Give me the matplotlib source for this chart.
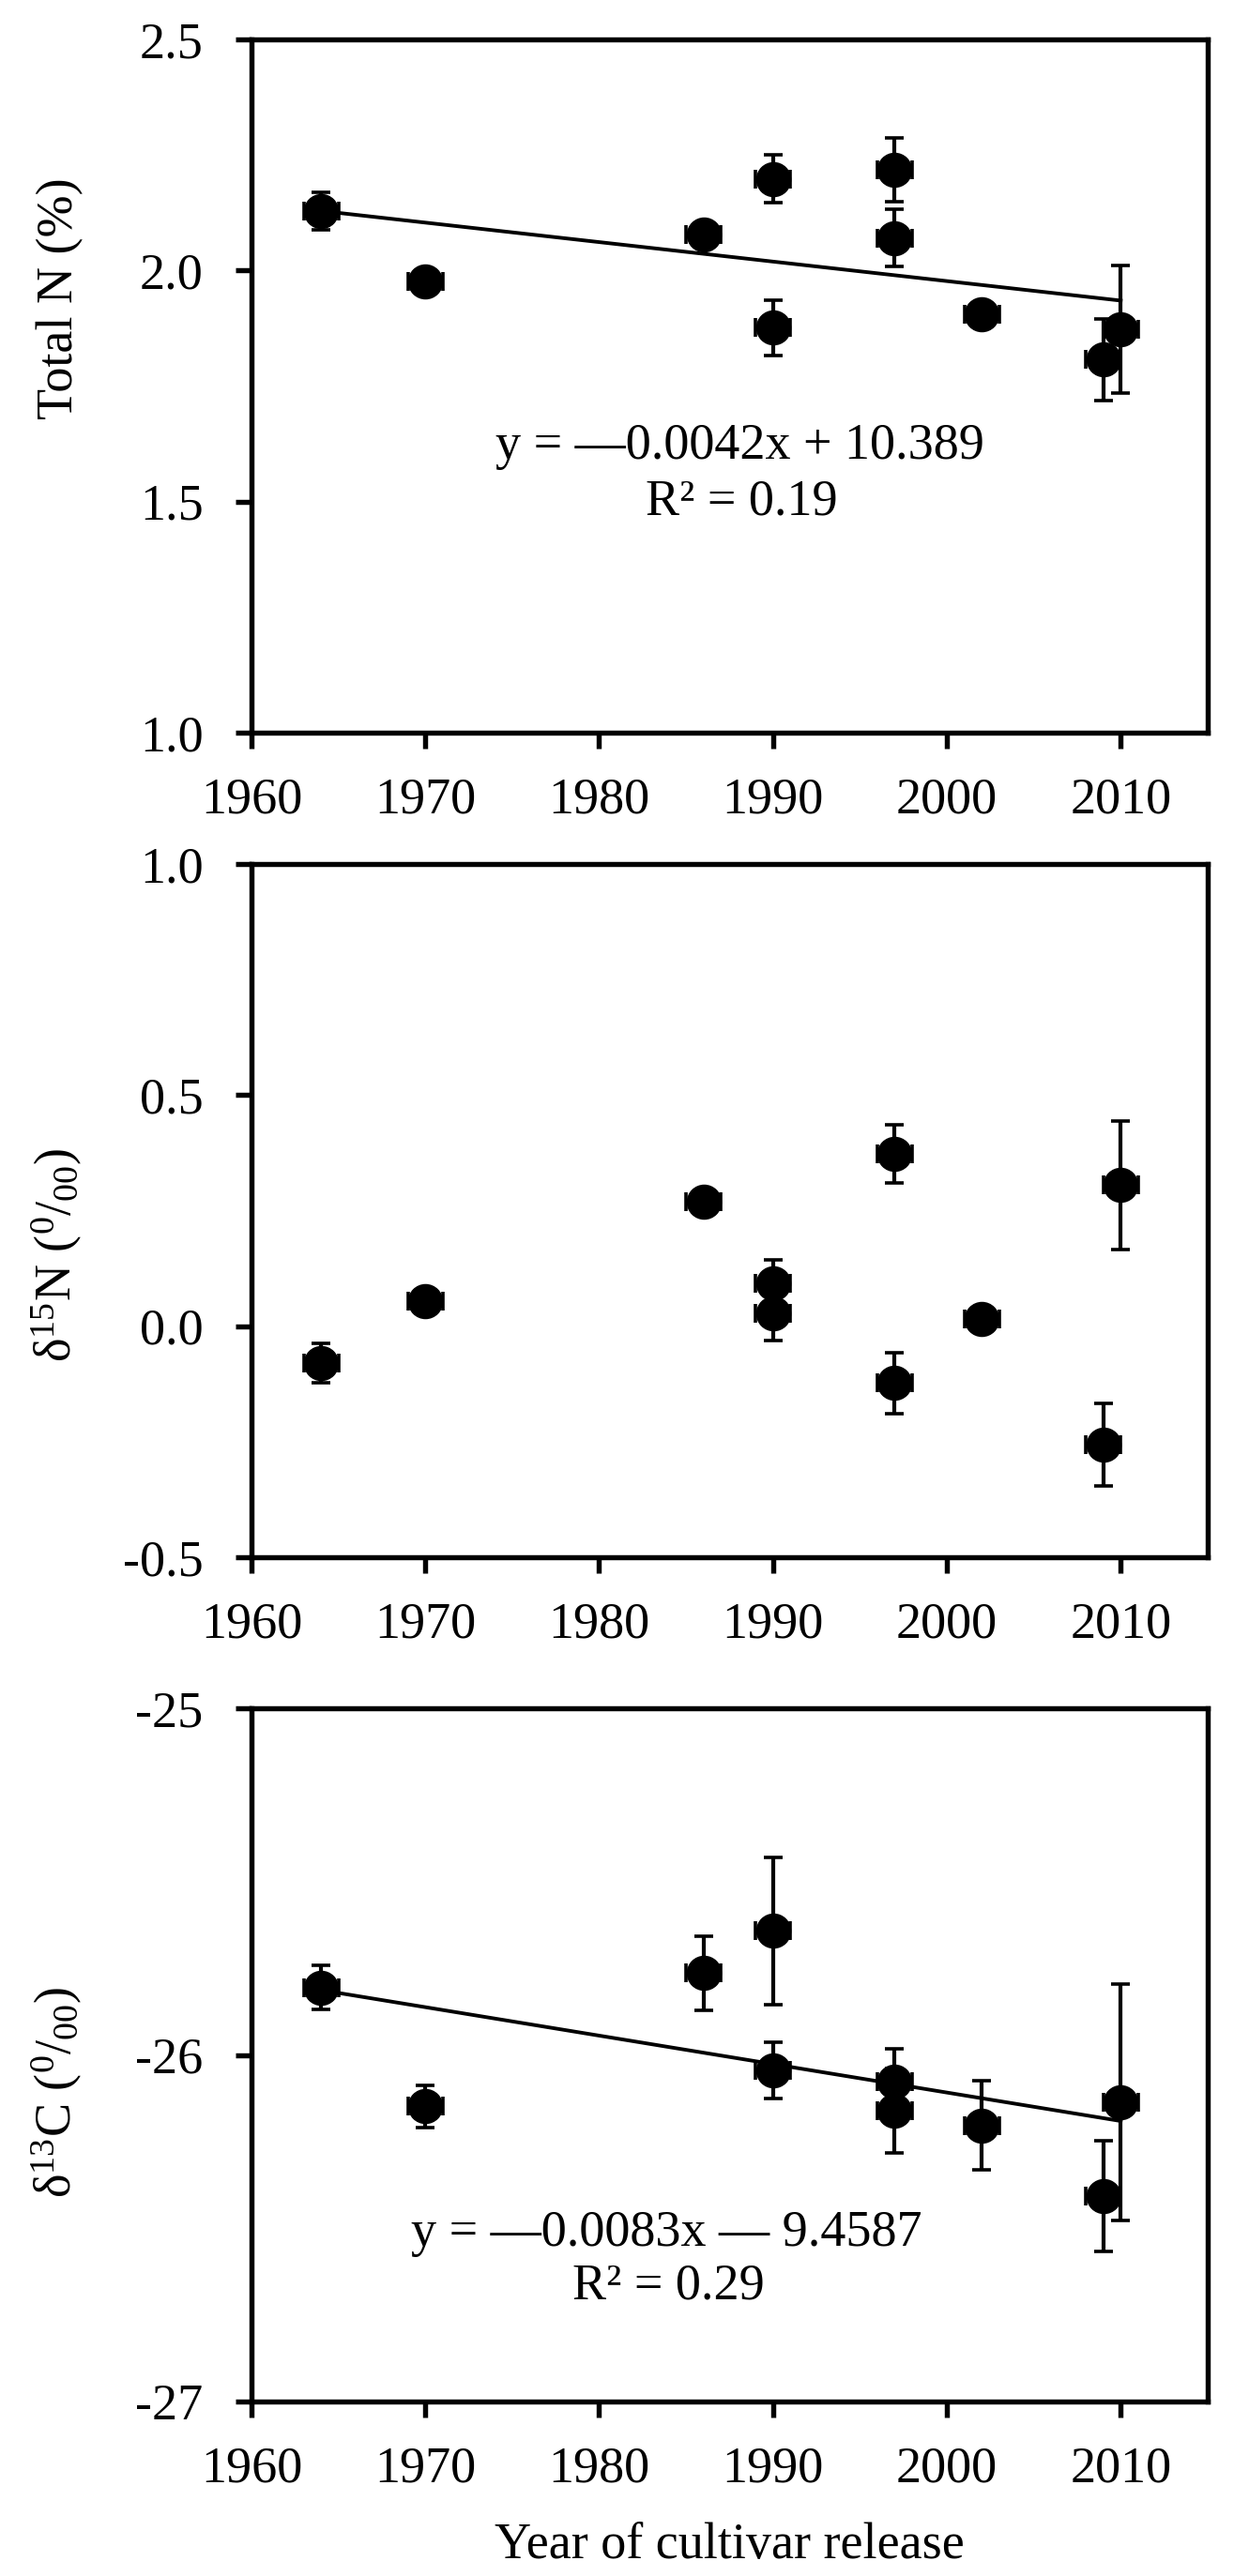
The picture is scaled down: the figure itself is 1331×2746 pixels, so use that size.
import numpy as np
import matplotlib.pyplot as plt
from matplotlib.ticker import FormatStrFormatter

plt.rcParams['font.family'] = ['Liberation Serif', 'DejaVu Serif']
plt.rcParams['mathtext.default'] = 'regular'
plt.rcParams['axes.unicode_minus'] = False

# Year of cultivar release (shared by all panels)
years = [1964, 1970, 1986, 1990, 1990, 1997, 1997, 2002, 2009, 2010]
year_err = 1.0

# Total N (%)
total_n = [2.129, 1.977, 2.077, 2.198, 1.876, 2.217, 2.070, 1.906, 1.807, 1.872]
total_n_err = [0.041, 0.005, 0.005, 0.052, 0.060, 0.069, 0.062, 0.005, 0.088, 0.138]

# delta 15N (per mil)
d15n = [-0.080, 0.055, 0.270, 0.093, 0.028, 0.372, -0.123, 0.016, -0.257, 0.305]
d15n_err = [0.042, 0.008, 0.008, 0.051, 0.059, 0.063, 0.066, 0.008, 0.089, 0.139]

# delta 13C (per mil)
d13c = [-25.805, -26.148, -25.764, -25.642, -26.044, -26.076, -26.160, -26.203, -26.407, -26.136]
d13c_err = [0.063, 0.061, 0.107, 0.213, 0.081, 0.095, 0.122, 0.128, 0.159, 0.341]

FS = 39
LEFT, WIDTH, HEIGHT = 0.2013, 0.7656, 0.2691


def draw_panel(fig, bottom, y, yerr, ylim, yticks, fmt, ylabel, label_y, fit_text=None):
    ax = fig.add_axes([LEFT, bottom, WIDTH, HEIGHT])

    # Trend line from a least squares fit
    if fit_text is not None:
        slope, intercept = np.polyfit(years, y, 1)
        xs = np.array([min(years), max(years)])
        ax.plot(xs, slope * xs + intercept, color='k', lw=2.8, zorder=1)
        for (tx, ty, s) in fit_text:
            ax.text(tx, ty, s, ha='center', va='center', fontsize=FS)

    ax.errorbar(years, y, yerr=yerr, xerr=year_err, fmt='o', color='k', ms=26,
                elinewidth=3.0, capsize=7.5, capthick=2.6, zorder=2)

    ax.set_xlim(1960, 2015)
    ax.set_ylim(*ylim)
    ax.set_xticks(range(1960, 2011, 10))
    ax.set_yticks(yticks)
    ax.yaxis.set_major_formatter(FormatStrFormatter(fmt))

    for sp in ax.spines.values():
        sp.set_linewidth(3.9)
    ax.tick_params(axis='both', direction='out', length=12, width=3.9, labelsize=FS)
    ax.tick_params(axis='y', pad=25)
    ax.tick_params(axis='x', pad=22)

    ax.set_ylabel(ylabel, fontsize=FS)
    ax.yaxis.set_label_coords(-0.175, label_y)
    return ax


fig = plt.figure(figsize=(13.31, 27.46), dpi=100)

draw_panel(fig, 0.7156, total_n, total_n_err, (1.0, 2.5), [1.0, 1.5, 2.0, 2.5], '%.1f',
           'Total N (%)', 0.626,
           fit_text=[(1988.1, 1.620, 'y = \u20140.0042x + 10.389'),
                     (1988.2, 1.498, 'R\u00b2 = 0.19')])

draw_panel(fig, 0.3955, d15n, d15n_err, (-0.5, 1.0), [-0.5, 0.0, 0.5, 1.0], '%.1f',
           '\u03b4$^{15}$N ($^{0}$/$_{00}$)', 0.436)

ax3 = draw_panel(fig, 0.0677, d13c, d13c_err, (-27, -25), [-27, -26, -25], '%d',
                 '\u03b4$^{13}$C ($^{0}$/$_{00}$)', 0.446,
                 fit_text=[(1983.9, -26.515, 'y = \u20140.0083x \u2014 9.4587'),
                           (1984.0, -26.668, 'R\u00b2 = 0.29')])
ax3.set_xlabel('Year of cultivar release', fontsize=FS, labelpad=22)

fig.savefig('out.png', dpi=100)
